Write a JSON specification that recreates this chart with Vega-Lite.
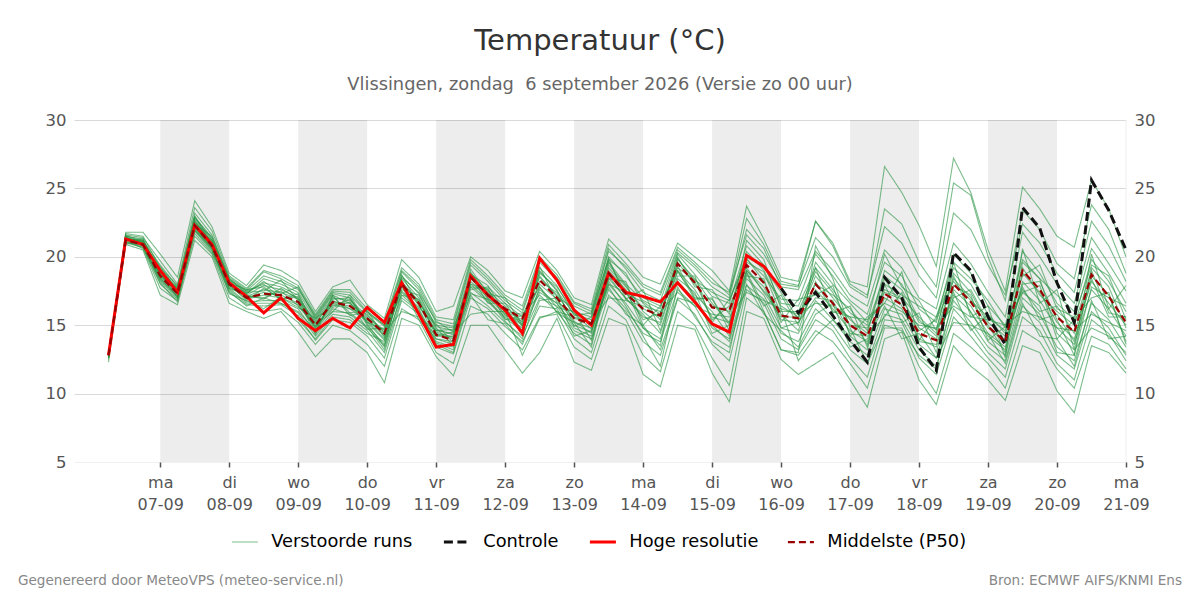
{"$schema":"https://vega.github.io/schema/vega-lite/v6.json","autosize":{"type":"none"},"width":1052,"height":342,"padding":{"left":74,"top":120,"right":74,"bottom":138},"background":"white","view":{"stroke":null},"title":{"text":"Temperatuur (°C)","subtitle":"Vlissingen, zondag\u00a0 6 september 2026 (Versie zo 00 uur)","anchor":"middle","font":"DejaVu Sans","fontSize":29,"fontWeight":"normal","color":"#333333","subtitleFont":"DejaVu Sans","subtitleFontSize":17.8,"subtitleColor":"#666666","subtitlePadding":20,"offset":18},"config":{"font":"DejaVu Sans","legend":{"orient":"none","legendX":162,"legendY":413,"direction":"horizontal","labelFontSize":17.8,"labelColor":"#000000","labelFont":"DejaVu Sans","symbolSize":676,"labelOffset":17.5,"columnPadding":24,"labelLimit":300}},"datasets":{"runs":[
{"h":-18,"m":1,"v":12.5},{"h":-12,"m":1,"v":21.8},{"h":-6,"m":1,"v":21.8},{"h":0,"m":1,"v":20.2},{"h":6,"m":1,"v":18.5},{"h":12,"m":1,"v":24.1},{"h":18,"m":1,"v":22.2},{"h":24,"m":1,"v":18.8},{"h":30,"m":1,"v":17.9},{"h":36,"m":1,"v":19.4},{"h":42,"m":1,"v":19},{"h":48,"m":1,"v":18.2},{"h":54,"m":1,"v":16},{"h":60,"m":1,"v":17.8},{"h":66,"m":1,"v":18.3},{"h":72,"m":1,"v":16.5},{"h":78,"m":1,"v":15.5},{"h":84,"m":1,"v":19.8},{"h":90,"m":1,"v":18.5},{"h":96,"m":1,"v":16},{"h":102,"m":1,"v":16.4},{"h":108,"m":1,"v":20},{"h":114,"m":1,"v":19},{"h":120,"m":1,"v":17.5},{"h":126,"m":1,"v":17},{"h":132,"m":1,"v":20.4},{"h":138,"m":1,"v":19},{"h":144,"m":1,"v":17},{"h":150,"m":1,"v":16.5},{"h":156,"m":1,"v":21.3},{"h":162,"m":1,"v":20},{"h":168,"m":1,"v":18.5},{"h":174,"m":1,"v":18},{"h":180,"m":1,"v":21},{"h":186,"m":1,"v":20},{"h":192,"m":1,"v":19},{"h":198,"m":1,"v":17.5},{"h":204,"m":1,"v":23.7},{"h":210,"m":1,"v":21.3},{"h":216,"m":1,"v":18.5},{"h":222,"m":1,"v":18.2},{"h":228,"m":1,"v":22.6},{"h":234,"m":1,"v":21},{"h":240,"m":1,"v":18.2},{"h":246,"m":1,"v":17.8},{"h":252,"m":1,"v":26.6},{"h":258,"m":1,"v":24.7},{"h":264,"m":1,"v":22.3},{"h":270,"m":1,"v":19.3},{"h":276,"m":1,"v":27.2},{"h":282,"m":1,"v":24.7},{"h":288,"m":1,"v":20.5},{"h":294,"m":1,"v":17.5},{"h":300,"m":1,"v":25.1},{"h":306,"m":1,"v":23.5},{"h":312,"m":1,"v":21.5},{"h":318,"m":1,"v":20.7},{"h":324,"m":1,"v":25.6},{"h":330,"m":1,"v":23.5},{"h":336,"m":1,"v":20},
{"h":-18,"m":2,"v":12.3},{"h":-12,"m":2,"v":20.9},{"h":-6,"m":2,"v":20.5},{"h":0,"m":2,"v":17.2},{"h":6,"m":2,"v":16.5},{"h":12,"m":2,"v":21.2},{"h":18,"m":2,"v":20},{"h":24,"m":2,"v":16.6},{"h":30,"m":2,"v":16},{"h":36,"m":2,"v":15.5},{"h":42,"m":2,"v":16},{"h":48,"m":2,"v":14.5},{"h":54,"m":2,"v":12.7},{"h":60,"m":2,"v":14},{"h":66,"m":2,"v":14},{"h":72,"m":2,"v":13},{"h":78,"m":2,"v":10.8},{"h":84,"m":2,"v":15.5},{"h":90,"m":2,"v":15},{"h":96,"m":2,"v":12.7},{"h":102,"m":2,"v":11.3},{"h":108,"m":2,"v":15},{"h":114,"m":2,"v":15},{"h":120,"m":2,"v":13.2},{"h":126,"m":2,"v":11.5},{"h":132,"m":2,"v":13},{"h":138,"m":2,"v":15.5},{"h":144,"m":2,"v":12.3},{"h":150,"m":2,"v":11.7},{"h":156,"m":2,"v":15.5},{"h":162,"m":2,"v":15},{"h":168,"m":2,"v":11.4},{"h":174,"m":2,"v":10.5},{"h":180,"m":2,"v":15},{"h":186,"m":2,"v":14.7},{"h":192,"m":2,"v":11.5},{"h":198,"m":2,"v":9.4},{"h":204,"m":2,"v":16},{"h":210,"m":2,"v":15.5},{"h":216,"m":2,"v":12.5},{"h":222,"m":2,"v":11.4},{"h":228,"m":2,"v":12.2},{"h":234,"m":2,"v":13},{"h":240,"m":2,"v":11},{"h":246,"m":2,"v":9},{"h":252,"m":2,"v":14},{"h":258,"m":2,"v":14.5},{"h":264,"m":2,"v":11},{"h":270,"m":2,"v":9.2},{"h":276,"m":2,"v":13.5},{"h":282,"m":2,"v":12},{"h":288,"m":2,"v":11},{"h":294,"m":2,"v":9.5},{"h":300,"m":2,"v":13.5},{"h":306,"m":2,"v":13},{"h":312,"m":2,"v":10.2},{"h":318,"m":2,"v":8.6},{"h":324,"m":2,"v":13.5},{"h":330,"m":2,"v":13},{"h":336,"m":2,"v":11.5},
{"h":-18,"m":3,"v":12.9},{"h":-12,"m":3,"v":21.5},{"h":-6,"m":3,"v":21.2},{"h":0,"m":3,"v":19.4},{"h":6,"m":3,"v":17.8},{"h":12,"m":3,"v":23.2},{"h":18,"m":3,"v":21.6},{"h":24,"m":3,"v":18.4},{"h":30,"m":3,"v":17.5},{"h":36,"m":3,"v":18.6},{"h":42,"m":3,"v":18.2},{"h":48,"m":3,"v":17.6},{"h":54,"m":3,"v":15.6},{"h":60,"m":3,"v":17.4},{"h":66,"m":3,"v":17.2},{"h":72,"m":3,"v":15.9},{"h":78,"m":3,"v":14.9},{"h":84,"m":3,"v":18.9},{"h":90,"m":3,"v":17.6},{"h":96,"m":3,"v":15.2},{"h":102,"m":3,"v":14.9},{"h":108,"m":3,"v":19.4},{"h":114,"m":3,"v":18.2},{"h":120,"m":3,"v":16.8},{"h":126,"m":3,"v":15.9},{"h":132,"m":3,"v":19.6},{"h":138,"m":3,"v":18.3},{"h":144,"m":3,"v":16.4},{"h":150,"m":3,"v":15.8},{"h":156,"m":3,"v":20.6},{"h":162,"m":3,"v":19.1},{"h":168,"m":3,"v":17.4},{"h":174,"m":3,"v":16.8},{"h":180,"m":3,"v":20.3},{"h":186,"m":3,"v":19.2},{"h":192,"m":3,"v":17.8},{"h":198,"m":3,"v":17},{"h":204,"m":3,"v":22},{"h":210,"m":3,"v":20.6},{"h":216,"m":3,"v":17.8},{"h":222,"m":3,"v":17.6},{"h":228,"m":3,"v":20.4},{"h":234,"m":3,"v":19},{"h":240,"m":3,"v":17.2},{"h":246,"m":3,"v":16.4},{"h":252,"m":3,"v":20.5},{"h":258,"m":3,"v":19.2},{"h":264,"m":3,"v":17},{"h":270,"m":3,"v":16.2},{"h":276,"m":3,"v":21},{"h":282,"m":3,"v":19.5},{"h":288,"m":3,"v":17.4},{"h":294,"m":3,"v":15.6},{"h":300,"m":3,"v":21.8},{"h":306,"m":3,"v":20},{"h":312,"m":3,"v":18},{"h":318,"m":3,"v":16.6},{"h":324,"m":3,"v":21.4},{"h":330,"m":3,"v":19.5},{"h":336,"m":3,"v":17.5},
{"h":-18,"m":4,"v":12.7},{"h":-12,"m":4,"v":21},{"h":-6,"m":4,"v":20.7},{"h":0,"m":4,"v":18},{"h":6,"m":4,"v":16.9},{"h":12,"m":4,"v":21.7},{"h":18,"m":4,"v":20.3},{"h":24,"m":4,"v":17.4},{"h":30,"m":4,"v":16.5},{"h":36,"m":4,"v":16.4},{"h":42,"m":4,"v":16.5},{"h":48,"m":4,"v":15.7},{"h":54,"m":4,"v":13.9},{"h":60,"m":4,"v":15.4},{"h":66,"m":4,"v":15.2},{"h":72,"m":4,"v":14.2},{"h":78,"m":4,"v":12.6},{"h":84,"m":4,"v":16.8},{"h":90,"m":4,"v":15.8},{"h":96,"m":4,"v":13.4},{"h":102,"m":4,"v":12.9},{"h":108,"m":4,"v":17},{"h":114,"m":4,"v":16.2},{"h":120,"m":4,"v":14.9},{"h":126,"m":4,"v":13.8},{"h":132,"m":4,"v":16.4},{"h":138,"m":4,"v":16.2},{"h":144,"m":4,"v":14},{"h":150,"m":4,"v":13},{"h":156,"m":4,"v":17.2},{"h":162,"m":4,"v":16},{"h":168,"m":4,"v":13.8},{"h":174,"m":4,"v":12.8},{"h":180,"m":4,"v":16.9},{"h":186,"m":4,"v":15.8},{"h":192,"m":4,"v":13.6},{"h":198,"m":4,"v":12.4},{"h":204,"m":4,"v":17.6},{"h":210,"m":4,"v":16.6},{"h":216,"m":4,"v":14},{"h":222,"m":4,"v":13.2},{"h":228,"m":4,"v":15.4},{"h":234,"m":4,"v":14.6},{"h":240,"m":4,"v":12.6},{"h":246,"m":4,"v":11.2},{"h":252,"m":4,"v":15.4},{"h":258,"m":4,"v":15.2},{"h":264,"m":4,"v":12.6},{"h":270,"m":4,"v":11.4},{"h":276,"m":4,"v":15.6},{"h":282,"m":4,"v":14.2},{"h":288,"m":4,"v":12.6},{"h":294,"m":4,"v":11.2},{"h":300,"m":4,"v":15.6},{"h":306,"m":4,"v":14.6},{"h":312,"m":4,"v":12.2},{"h":318,"m":4,"v":11},{"h":324,"m":4,"v":15.4},{"h":330,"m":4,"v":14.4},{"h":336,"m":4,"v":12.4},
{"h":-18,"m":5,"v":12.8},{"h":-12,"m":5,"v":21.4},{"h":-6,"m":5,"v":21},{"h":0,"m":5,"v":18.9},{"h":6,"m":5,"v":17.6},{"h":12,"m":5,"v":22.8},{"h":18,"m":5,"v":21.2},{"h":24,"m":5,"v":18.2},{"h":30,"m":5,"v":17.2},{"h":36,"m":5,"v":17.9},{"h":42,"m":5,"v":17.6},{"h":48,"m":5,"v":17},{"h":54,"m":5,"v":15.3},{"h":60,"m":5,"v":17},{"h":66,"m":5,"v":16.8},{"h":72,"m":5,"v":15.7},{"h":78,"m":5,"v":14.6},{"h":84,"m":5,"v":18.4},{"h":90,"m":5,"v":17},{"h":96,"m":5,"v":14.7},{"h":102,"m":5,"v":14.3},{"h":108,"m":5,"v":18.8},{"h":114,"m":5,"v":17.5},{"h":120,"m":5,"v":16.4},{"h":126,"m":5,"v":15.2},{"h":132,"m":5,"v":19},{"h":138,"m":5,"v":17.5},{"h":144,"m":5,"v":15.8},{"h":150,"m":5,"v":15.4},{"h":156,"m":5,"v":19.6},{"h":162,"m":5,"v":18},{"h":168,"m":5,"v":16.8},{"h":174,"m":5,"v":16.2},{"h":180,"m":5,"v":20.2},{"h":186,"m":5,"v":18.7},{"h":192,"m":5,"v":17.1},{"h":198,"m":5,"v":16.6},{"h":204,"m":5,"v":20.8},{"h":210,"m":5,"v":19.4},{"h":216,"m":5,"v":16.6},{"h":222,"m":5,"v":16.4},{"h":228,"m":5,"v":19.2},{"h":234,"m":5,"v":17.6},{"h":240,"m":5,"v":15.9},{"h":246,"m":5,"v":15},{"h":252,"m":5,"v":18.6},{"h":258,"m":5,"v":17.6},{"h":264,"m":5,"v":15.2},{"h":270,"m":5,"v":14.7},{"h":276,"m":5,"v":19.2},{"h":282,"m":5,"v":18},{"h":288,"m":5,"v":15.8},{"h":294,"m":5,"v":14.4},{"h":300,"m":5,"v":20.4},{"h":306,"m":5,"v":18.8},{"h":312,"m":5,"v":16.6},{"h":318,"m":5,"v":15.4},{"h":324,"m":5,"v":19.8},{"h":330,"m":5,"v":18.2},{"h":336,"m":5,"v":16},
{"h":-18,"m":6,"v":12.6},{"h":-12,"m":6,"v":21.1},{"h":-6,"m":6,"v":20.8},{"h":0,"m":6,"v":18.3},{"h":6,"m":6,"v":17.1},{"h":12,"m":6,"v":22},{"h":18,"m":6,"v":20.5},{"h":24,"m":6,"v":17.7},{"h":30,"m":6,"v":16.7},{"h":36,"m":6,"v":16.8},{"h":42,"m":6,"v":16.8},{"h":48,"m":6,"v":16.2},{"h":54,"m":6,"v":14.4},{"h":60,"m":6,"v":16},{"h":66,"m":6,"v":15.9},{"h":72,"m":6,"v":14.9},{"h":78,"m":6,"v":13.2},{"h":84,"m":6,"v":17.4},{"h":90,"m":6,"v":16.2},{"h":96,"m":6,"v":13.8},{"h":102,"m":6,"v":13.4},{"h":108,"m":6,"v":17.8},{"h":114,"m":6,"v":16.7},{"h":120,"m":6,"v":15.5},{"h":126,"m":6,"v":14.6},{"h":132,"m":6,"v":17.4},{"h":138,"m":6,"v":16.6},{"h":144,"m":6,"v":14.8},{"h":150,"m":6,"v":14.2},{"h":156,"m":6,"v":18},{"h":162,"m":6,"v":16.6},{"h":168,"m":6,"v":14.8},{"h":174,"m":6,"v":14},{"h":180,"m":6,"v":18.2},{"h":186,"m":6,"v":16.9},{"h":192,"m":6,"v":14.8},{"h":198,"m":6,"v":14},{"h":204,"m":6,"v":18.4},{"h":210,"m":6,"v":17.2},{"h":216,"m":6,"v":14.8},{"h":222,"m":6,"v":14.4},{"h":228,"m":6,"v":16.8},{"h":234,"m":6,"v":15.4},{"h":240,"m":6,"v":13.8},{"h":246,"m":6,"v":12.8},{"h":252,"m":6,"v":16.2},{"h":258,"m":6,"v":15.8},{"h":264,"m":6,"v":13.6},{"h":270,"m":6,"v":12.6},{"h":276,"m":6,"v":16.8},{"h":282,"m":6,"v":15.2},{"h":288,"m":6,"v":13.4},{"h":294,"m":6,"v":12.4},{"h":300,"m":6,"v":17},{"h":306,"m":6,"v":15.8},{"h":312,"m":6,"v":13.4},{"h":318,"m":6,"v":12.4},{"h":324,"m":6,"v":16.6},{"h":330,"m":6,"v":15.4},{"h":336,"m":6,"v":13.4},
{"h":-18,"m":7,"v":13},{"h":-12,"m":7,"v":21.6},{"h":-6,"m":7,"v":21.4},{"h":0,"m":7,"v":19.7},{"h":6,"m":7,"v":18},{"h":12,"m":7,"v":23.6},{"h":18,"m":7,"v":21.9},{"h":24,"m":7,"v":18.6},{"h":30,"m":7,"v":17.7},{"h":36,"m":7,"v":19},{"h":42,"m":7,"v":18.6},{"h":48,"m":7,"v":17.9},{"h":54,"m":7,"v":15.8},{"h":60,"m":7,"v":17.6},{"h":66,"m":7,"v":17.6},{"h":72,"m":7,"v":16.2},{"h":78,"m":7,"v":15.2},{"h":84,"m":7,"v":19.2},{"h":90,"m":7,"v":18},{"h":96,"m":7,"v":15.6},{"h":102,"m":7,"v":15.4},{"h":108,"m":7,"v":19.8},{"h":114,"m":7,"v":18.6},{"h":120,"m":7,"v":17.2},{"h":126,"m":7,"v":16.4},{"h":132,"m":7,"v":20},{"h":138,"m":7,"v":18.7},{"h":144,"m":7,"v":16.7},{"h":150,"m":7,"v":16.2},{"h":156,"m":7,"v":20.9},{"h":162,"m":7,"v":19.5},{"h":168,"m":7,"v":18},{"h":174,"m":7,"v":17.4},{"h":180,"m":7,"v":20.7},{"h":186,"m":7,"v":19.6},{"h":192,"m":7,"v":18.4},{"h":198,"m":7,"v":17.2},{"h":204,"m":7,"v":22.8},{"h":210,"m":7,"v":20.9},{"h":216,"m":7,"v":18.2},{"h":222,"m":7,"v":17.9},{"h":228,"m":7,"v":21.4},{"h":234,"m":7,"v":20},{"h":240,"m":7,"v":17.8},{"h":246,"m":7,"v":17},{"h":252,"m":7,"v":23.5},{"h":258,"m":7,"v":22.4},{"h":264,"m":7,"v":19.6},{"h":270,"m":7,"v":17.8},{"h":276,"m":7,"v":25.4},{"h":282,"m":7,"v":24.5},{"h":288,"m":7,"v":20},{"h":294,"m":7,"v":16.8},{"h":300,"m":7,"v":23.4},{"h":306,"m":7,"v":22},{"h":312,"m":7,"v":19.5},{"h":318,"m":7,"v":18.4},{"h":324,"m":7,"v":23.8},{"h":330,"m":7,"v":22},{"h":336,"m":7,"v":18.8},
{"h":-18,"m":8,"v":12.8},{"h":-12,"m":8,"v":21.3},{"h":-6,"m":8,"v":20.9},{"h":0,"m":8,"v":18.5},{"h":6,"m":8,"v":17.3},{"h":12,"m":8,"v":22.4},{"h":18,"m":8,"v":20.9},{"h":24,"m":8,"v":17.9},{"h":30,"m":8,"v":16.9},{"h":36,"m":8,"v":17.2},{"h":42,"m":8,"v":17},{"h":48,"m":8,"v":16.5},{"h":54,"m":8,"v":14.8},{"h":60,"m":8,"v":16.5},{"h":66,"m":8,"v":16.2},{"h":72,"m":8,"v":15.3},{"h":78,"m":8,"v":14},{"h":84,"m":8,"v":17.8},{"h":90,"m":8,"v":16.5},{"h":96,"m":8,"v":14},{"h":102,"m":8,"v":13.6},{"h":108,"m":8,"v":18.2},{"h":114,"m":8,"v":17},{"h":120,"m":8,"v":15.8},{"h":126,"m":8,"v":15},{"h":132,"m":8,"v":18},{"h":138,"m":8,"v":16.9},{"h":144,"m":8,"v":15.2},{"h":150,"m":8,"v":14.8},{"h":156,"m":8,"v":18.4},{"h":162,"m":8,"v":17},{"h":168,"m":8,"v":15.6},{"h":174,"m":8,"v":15.2},{"h":180,"m":8,"v":19},{"h":186,"m":8,"v":17.6},{"h":192,"m":8,"v":15.6},{"h":198,"m":8,"v":15.2},{"h":204,"m":8,"v":19},{"h":210,"m":8,"v":17.8},{"h":216,"m":8,"v":15.4},{"h":222,"m":8,"v":15.2},{"h":228,"m":8,"v":17.6},{"h":234,"m":8,"v":16.2},{"h":240,"m":8,"v":14.6},{"h":246,"m":8,"v":13.8},{"h":252,"m":8,"v":17},{"h":258,"m":8,"v":16.2},{"h":264,"m":8,"v":14},{"h":270,"m":8,"v":13.4},{"h":276,"m":8,"v":17.6},{"h":282,"m":8,"v":16.4},{"h":288,"m":8,"v":14.4},{"h":294,"m":8,"v":13.4},{"h":300,"m":8,"v":18.2},{"h":306,"m":8,"v":16.8},{"h":312,"m":8,"v":14.8},{"h":318,"m":8,"v":13.6},{"h":324,"m":8,"v":17.6},{"h":330,"m":8,"v":16.2},{"h":336,"m":8,"v":14.2},
{"h":-18,"m":9,"v":12.9},{"h":-12,"m":9,"v":21.2},{"h":-6,"m":9,"v":21.1},{"h":0,"m":9,"v":19.1},{"h":6,"m":9,"v":17.7},{"h":12,"m":9,"v":22.6},{"h":18,"m":9,"v":21},{"h":24,"m":9,"v":18.3},{"h":30,"m":9,"v":17.4},{"h":36,"m":9,"v":18.1},{"h":42,"m":9,"v":17.8},{"h":48,"m":9,"v":17.2},{"h":54,"m":9,"v":15.1},{"h":60,"m":9,"v":16.9},{"h":66,"m":9,"v":17},{"h":72,"m":9,"v":15},{"h":78,"m":9,"v":13.6},{"h":84,"m":9,"v":18},{"h":90,"m":9,"v":16.8},{"h":96,"m":9,"v":14.5},{"h":102,"m":9,"v":14.1},{"h":108,"m":9,"v":18.5},{"h":114,"m":9,"v":17.4},{"h":120,"m":9,"v":16},{"h":126,"m":9,"v":12.8},{"h":132,"m":9,"v":15.5},{"h":138,"m":9,"v":16},{"h":144,"m":9,"v":14.4},{"h":150,"m":9,"v":13.6},{"h":156,"m":9,"v":19},{"h":162,"m":9,"v":17.6},{"h":168,"m":9,"v":14.8},{"h":174,"m":9,"v":13.5},{"h":180,"m":9,"v":19.8},{"h":186,"m":9,"v":18.4},{"h":192,"m":9,"v":16.6},{"h":198,"m":9,"v":15.2},{"h":204,"m":9,"v":21.2},{"h":210,"m":9,"v":19.8},{"h":216,"m":9,"v":16.2},{"h":222,"m":9,"v":12.4},{"h":228,"m":9,"v":14.2},{"h":234,"m":9,"v":15.4},{"h":240,"m":9,"v":14.2},{"h":246,"m":9,"v":13.2},{"h":252,"m":9,"v":18},{"h":258,"m":9,"v":17.2},{"h":264,"m":9,"v":16.4},{"h":270,"m":9,"v":15.6},{"h":276,"m":9,"v":18.8},{"h":282,"m":9,"v":17.4},{"h":288,"m":9,"v":15},{"h":294,"m":9,"v":13},{"h":300,"m":9,"v":19.6},{"h":306,"m":9,"v":18.4},{"h":312,"m":9,"v":14.4},{"h":318,"m":9,"v":13.2},{"h":324,"m":9,"v":14.8},{"h":330,"m":9,"v":14.2},{"h":336,"m":9,"v":13},
{"h":-18,"m":10,"v":12.7},{"h":-12,"m":10,"v":21.2},{"h":-6,"m":10,"v":20.6},{"h":0,"m":10,"v":17.7},{"h":6,"m":10,"v":16.8},{"h":12,"m":10,"v":21.5},{"h":18,"m":10,"v":20.2},{"h":24,"m":10,"v":17},{"h":30,"m":10,"v":16.2},{"h":36,"m":10,"v":16},{"h":42,"m":10,"v":16.2},{"h":48,"m":10,"v":15.2},{"h":54,"m":10,"v":13.6},{"h":60,"m":10,"v":15},{"h":66,"m":10,"v":14.6},{"h":72,"m":10,"v":13.6},{"h":78,"m":10,"v":12},{"h":84,"m":10,"v":16.2},{"h":90,"m":10,"v":15.4},{"h":96,"m":10,"v":13},{"h":102,"m":10,"v":12.2},{"h":108,"m":10,"v":16.4},{"h":114,"m":10,"v":15.8},{"h":120,"m":10,"v":14.4},{"h":126,"m":10,"v":13.2},{"h":132,"m":10,"v":15.6},{"h":138,"m":10,"v":15.8},{"h":144,"m":10,"v":13.4},{"h":150,"m":10,"v":12.5},{"h":156,"m":10,"v":16.4},{"h":162,"m":10,"v":15.4},{"h":168,"m":10,"v":12.8},{"h":174,"m":10,"v":11.6},{"h":180,"m":10,"v":16},{"h":186,"m":10,"v":15},{"h":192,"m":10,"v":12.6},{"h":198,"m":10,"v":10.6},{"h":204,"m":10,"v":17},{"h":210,"m":10,"v":16},{"h":216,"m":10,"v":13.2},{"h":222,"m":10,"v":12.8},{"h":228,"m":10,"v":14.6},{"h":234,"m":10,"v":13.8},{"h":240,"m":10,"v":12.2},{"h":246,"m":10,"v":10.4},{"h":252,"m":10,"v":14.8},{"h":258,"m":10,"v":14.8},{"h":264,"m":10,"v":12},{"h":270,"m":10,"v":10},{"h":276,"m":10,"v":14.4},{"h":282,"m":10,"v":13.4},{"h":288,"m":10,"v":12.2},{"h":294,"m":10,"v":10.4},{"h":300,"m":10,"v":14.6},{"h":306,"m":10,"v":13.8},{"h":312,"m":10,"v":11.8},{"h":318,"m":10,"v":10.4},{"h":324,"m":10,"v":14.2},{"h":330,"m":10,"v":13.6},{"h":336,"m":10,"v":11.8},
{"h":-18,"m":11,"v":12.8},{"h":-12,"m":11,"v":21.5},{"h":-6,"m":11,"v":21.3},{"h":0,"m":11,"v":18.8},{"h":6,"m":11,"v":17.4},{"h":12,"m":11,"v":22.2},{"h":18,"m":11,"v":20.7},{"h":24,"m":11,"v":18.1},{"h":30,"m":11,"v":17.3},{"h":36,"m":11,"v":18.4},{"h":42,"m":11,"v":18},{"h":48,"m":11,"v":17.4},{"h":54,"m":11,"v":15.4},{"h":60,"m":11,"v":17.2},{"h":66,"m":11,"v":16.6},{"h":72,"m":11,"v":15.4},{"h":78,"m":11,"v":14.2},{"h":84,"m":11,"v":18.6},{"h":90,"m":11,"v":17.3},{"h":96,"m":11,"v":14.9},{"h":102,"m":11,"v":14.6},{"h":108,"m":11,"v":17.6},{"h":114,"m":11,"v":17.8},{"h":120,"m":11,"v":16.6},{"h":126,"m":11,"v":15.6},{"h":132,"m":11,"v":18.8},{"h":138,"m":11,"v":17.8},{"h":144,"m":11,"v":16},{"h":150,"m":11,"v":15.6},{"h":156,"m":11,"v":20},{"h":162,"m":11,"v":18.6},{"h":168,"m":11,"v":17},{"h":174,"m":11,"v":16.4},{"h":180,"m":11,"v":19.2},{"h":186,"m":11,"v":18.3},{"h":192,"m":11,"v":17.4},{"h":198,"m":11,"v":16.8},{"h":204,"m":11,"v":19.8},{"h":210,"m":11,"v":18.6},{"h":216,"m":11,"v":16.9},{"h":222,"m":11,"v":16.8},{"h":228,"m":11,"v":20.2},{"h":234,"m":11,"v":18.6},{"h":240,"m":11,"v":16.8},{"h":246,"m":11,"v":15.8},{"h":252,"m":11,"v":19.6},{"h":258,"m":11,"v":18.6},{"h":264,"m":11,"v":16.2},{"h":270,"m":11,"v":15.2},{"h":276,"m":11,"v":20.2},{"h":282,"m":11,"v":18.8},{"h":288,"m":11,"v":16.4},{"h":294,"m":11,"v":15},{"h":300,"m":11,"v":19.8},{"h":306,"m":11,"v":18.4},{"h":312,"m":11,"v":17.2},{"h":318,"m":11,"v":16},{"h":324,"m":11,"v":20.6},{"h":330,"m":11,"v":18.8},{"h":336,"m":11,"v":16.6},
{"h":-18,"m":12,"v":12.6},{"h":-12,"m":12,"v":21},{"h":-6,"m":12,"v":20.9},{"h":0,"m":12,"v":18.2},{"h":6,"m":12,"v":17},{"h":12,"m":12,"v":22.1},{"h":18,"m":12,"v":20.6},{"h":24,"m":12,"v":17.6},{"h":30,"m":12,"v":16.6},{"h":36,"m":12,"v":16.6},{"h":42,"m":12,"v":16.6},{"h":48,"m":12,"v":15.9},{"h":54,"m":12,"v":14.2},{"h":60,"m":12,"v":15.8},{"h":66,"m":12,"v":15.6},{"h":72,"m":12,"v":14.6},{"h":78,"m":12,"v":13},{"h":84,"m":12,"v":17},{"h":90,"m":12,"v":16},{"h":96,"m":12,"v":13.6},{"h":102,"m":12,"v":13},{"h":108,"m":12,"v":17.4},{"h":114,"m":12,"v":16.4},{"h":120,"m":12,"v":15.2},{"h":126,"m":12,"v":14.2},{"h":132,"m":12,"v":17},{"h":138,"m":12,"v":16.4},{"h":144,"m":12,"v":14.6},{"h":150,"m":12,"v":14},{"h":156,"m":12,"v":17.6},{"h":162,"m":12,"v":16.2},{"h":168,"m":12,"v":14.4},{"h":174,"m":12,"v":13.8},{"h":180,"m":12,"v":17.6},{"h":186,"m":12,"v":16.4},{"h":192,"m":12,"v":14.2},{"h":198,"m":12,"v":13.4},{"h":204,"m":12,"v":17.9},{"h":210,"m":12,"v":16.9},{"h":216,"m":12,"v":14.4},{"h":222,"m":12,"v":13.8},{"h":228,"m":12,"v":16.2},{"h":234,"m":12,"v":15},{"h":240,"m":12,"v":13.2},{"h":246,"m":12,"v":12.2},{"h":252,"m":12,"v":15.8},{"h":258,"m":12,"v":15.4},{"h":264,"m":12,"v":13.2},{"h":270,"m":12,"v":12},{"h":276,"m":12,"v":16.2},{"h":282,"m":12,"v":14.8},{"h":288,"m":12,"v":13},{"h":294,"m":12,"v":11.8},{"h":300,"m":12,"v":16.4},{"h":306,"m":12,"v":15.2},{"h":312,"m":12,"v":12.8},{"h":318,"m":12,"v":11.8},{"h":324,"m":12,"v":16},{"h":330,"m":12,"v":14.8},{"h":336,"m":12,"v":12.8},
{"h":-18,"m":13,"v":12.9},{"h":-12,"m":13,"v":21.7},{"h":-6,"m":13,"v":21.5},{"h":0,"m":13,"v":19.2},{"h":6,"m":13,"v":17.9},{"h":12,"m":13,"v":22.9},{"h":18,"m":13,"v":21.4},{"h":24,"m":13,"v":18.5},{"h":30,"m":13,"v":17.6},{"h":36,"m":13,"v":18.9},{"h":42,"m":13,"v":18.4},{"h":48,"m":13,"v":17.7},{"h":54,"m":13,"v":15.7},{"h":60,"m":13,"v":17.5},{"h":66,"m":13,"v":17.4},{"h":72,"m":13,"v":16},{"h":78,"m":13,"v":15},{"h":84,"m":13,"v":19},{"h":90,"m":13,"v":17.8},{"h":96,"m":13,"v":15.4},{"h":102,"m":13,"v":15.1},{"h":108,"m":13,"v":19.6},{"h":114,"m":13,"v":18.4},{"h":120,"m":13,"v":17},{"h":126,"m":13,"v":16.1},{"h":132,"m":13,"v":19.8},{"h":138,"m":13,"v":18.5},{"h":144,"m":13,"v":16.6},{"h":150,"m":13,"v":16},{"h":156,"m":13,"v":20.4},{"h":162,"m":13,"v":19.3},{"h":168,"m":13,"v":17.8},{"h":174,"m":13,"v":17.2},{"h":180,"m":13,"v":20.5},{"h":186,"m":13,"v":19.4},{"h":192,"m":13,"v":18.1},{"h":198,"m":13,"v":17.4},{"h":204,"m":13,"v":21.6},{"h":210,"m":13,"v":20.2},{"h":216,"m":13,"v":18},{"h":222,"m":13,"v":17.8},{"h":228,"m":13,"v":22.6},{"h":234,"m":13,"v":20.8},{"h":240,"m":13,"v":18},{"h":246,"m":13,"v":17.2},{"h":252,"m":13,"v":22.2},{"h":258,"m":13,"v":21},{"h":264,"m":13,"v":18.6},{"h":270,"m":13,"v":17},{"h":276,"m":13,"v":23.2},{"h":282,"m":13,"v":22},{"h":288,"m":13,"v":19.4},{"h":294,"m":13,"v":17.2},{"h":300,"m":13,"v":22.4},{"h":306,"m":13,"v":21},{"h":312,"m":13,"v":18.8},{"h":318,"m":13,"v":17.4},{"h":324,"m":13,"v":22.6},{"h":330,"m":13,"v":20.8},{"h":336,"m":13,"v":18.2},
{"h":-18,"m":14,"v":12.7},{"h":-12,"m":14,"v":21.3},{"h":-6,"m":14,"v":21},{"h":0,"m":14,"v":18.7},{"h":6,"m":14,"v":17.5},{"h":12,"m":14,"v":21.9},{"h":18,"m":14,"v":20.4},{"h":24,"m":14,"v":17.8},{"h":30,"m":14,"v":17.1},{"h":36,"m":14,"v":17.6},{"h":42,"m":14,"v":17.4},{"h":48,"m":14,"v":16.9},{"h":54,"m":14,"v":15.2},{"h":60,"m":14,"v":16.7},{"h":66,"m":14,"v":16.6},{"h":72,"m":14,"v":15.6},{"h":78,"m":14,"v":14.5},{"h":84,"m":14,"v":16},{"h":90,"m":14,"v":15.6},{"h":96,"m":14,"v":14.6},{"h":102,"m":14,"v":14.4},{"h":108,"m":14,"v":15.8},{"h":114,"m":14,"v":16},{"h":120,"m":14,"v":16},{"h":126,"m":14,"v":15.8},{"h":132,"m":14,"v":17.2},{"h":138,"m":14,"v":16},{"h":144,"m":14,"v":15.6},{"h":150,"m":14,"v":15.2},{"h":156,"m":14,"v":17},{"h":162,"m":14,"v":16.8},{"h":168,"m":14,"v":16.4},{"h":174,"m":14,"v":16},{"h":180,"m":14,"v":17.4},{"h":186,"m":14,"v":16.4},{"h":192,"m":14,"v":15.8},{"h":198,"m":14,"v":15.6},{"h":204,"m":14,"v":17.4},{"h":210,"m":14,"v":16.8},{"h":216,"m":14,"v":16.2},{"h":222,"m":14,"v":15.8},{"h":228,"m":14,"v":16.6},{"h":234,"m":14,"v":16.4},{"h":240,"m":14,"v":15.6},{"h":246,"m":14,"v":15.4},{"h":252,"m":14,"v":16.6},{"h":258,"m":14,"v":16},{"h":264,"m":14,"v":15},{"h":270,"m":14,"v":14.8},{"h":276,"m":14,"v":16.4},{"h":282,"m":14,"v":15.6},{"h":288,"m":14,"v":15.4},{"h":294,"m":14,"v":15},{"h":300,"m":14,"v":16},{"h":306,"m":14,"v":15.6},{"h":312,"m":14,"v":14.8},{"h":318,"m":14,"v":14.6},{"h":324,"m":14,"v":15.8},{"h":330,"m":14,"v":15.2},{"h":336,"m":14,"v":14.6},
{"h":-18,"m":15,"v":12.8},{"h":-12,"m":15,"v":21.4},{"h":-6,"m":15,"v":21.1},{"h":0,"m":15,"v":19},{"h":6,"m":15,"v":17.6},{"h":12,"m":15,"v":22.5},{"h":18,"m":15,"v":21.1},{"h":24,"m":15,"v":18},{"h":30,"m":15,"v":17},{"h":36,"m":15,"v":17.4},{"h":42,"m":15,"v":17.2},{"h":48,"m":15,"v":16.6},{"h":54,"m":15,"v":14.9},{"h":60,"m":15,"v":16.6},{"h":66,"m":15,"v":16.4},{"h":72,"m":15,"v":15.5},{"h":78,"m":15,"v":14.3},{"h":84,"m":15,"v":18.2},{"h":90,"m":15,"v":16.7},{"h":96,"m":15,"v":14.4},{"h":102,"m":15,"v":14},{"h":108,"m":15,"v":18.4},{"h":114,"m":15,"v":17.2},{"h":120,"m":15,"v":16},{"h":126,"m":15,"v":15.4},{"h":132,"m":15,"v":18.5},{"h":138,"m":15,"v":17.2},{"h":144,"m":15,"v":15.5},{"h":150,"m":15,"v":15.2},{"h":156,"m":15,"v":19.2},{"h":162,"m":15,"v":17.8},{"h":168,"m":15,"v":16.2},{"h":174,"m":15,"v":15.6},{"h":180,"m":15,"v":19.6},{"h":186,"m":15,"v":18},{"h":192,"m":15,"v":16.4},{"h":198,"m":15,"v":16},{"h":204,"m":15,"v":20.4},{"h":210,"m":15,"v":19},{"h":216,"m":15,"v":16.4},{"h":222,"m":15,"v":15.6},{"h":228,"m":15,"v":18.6},{"h":234,"m":15,"v":17},{"h":240,"m":15,"v":15.4},{"h":246,"m":15,"v":14.4},{"h":252,"m":15,"v":19},{"h":258,"m":15,"v":18},{"h":264,"m":15,"v":15.4},{"h":270,"m":15,"v":14.2},{"h":276,"m":15,"v":18.4},{"h":282,"m":15,"v":17},{"h":288,"m":15,"v":14.8},{"h":294,"m":15,"v":13.8},{"h":300,"m":15,"v":18.8},{"h":306,"m":15,"v":17.4},{"h":312,"m":15,"v":15.2},{"h":318,"m":15,"v":14},{"h":324,"m":15,"v":18.2},{"h":330,"m":15,"v":16.6},{"h":336,"m":15,"v":15},
{"h":-18,"m":16,"v":12.9},{"h":-12,"m":16,"v":21.4},{"h":-6,"m":16,"v":20.8},{"h":0,"m":16,"v":18.4},{"h":6,"m":16,"v":17.2},{"h":12,"m":16,"v":22.3},{"h":18,"m":16,"v":20.6},{"h":24,"m":16,"v":17.5},{"h":30,"m":16,"v":16.4},{"h":36,"m":16,"v":17},{"h":42,"m":16,"v":16.6},{"h":48,"m":16,"v":16},{"h":54,"m":16,"v":14.6},{"h":60,"m":16,"v":16.2},{"h":66,"m":16,"v":15.8},{"h":72,"m":16,"v":14.8},{"h":78,"m":16,"v":13.5},{"h":84,"m":16,"v":17.2},{"h":90,"m":16,"v":16.1},{"h":96,"m":16,"v":13.7},{"h":102,"m":16,"v":13.2},{"h":108,"m":16,"v":18},{"h":114,"m":16,"v":16.8},{"h":120,"m":16,"v":15.6},{"h":126,"m":16,"v":14.8},{"h":132,"m":16,"v":17.6},{"h":138,"m":16,"v":16.6},{"h":144,"m":16,"v":15},{"h":150,"m":16,"v":14.5},{"h":156,"m":16,"v":18.2},{"h":162,"m":16,"v":16.4},{"h":168,"m":16,"v":14.2},{"h":174,"m":16,"v":12},{"h":180,"m":16,"v":17.8},{"h":186,"m":16,"v":15.6},{"h":192,"m":16,"v":13.8},{"h":198,"m":16,"v":13},{"h":204,"m":16,"v":18.8},{"h":210,"m":16,"v":16},{"h":216,"m":16,"v":13.2},{"h":222,"m":16,"v":13},{"h":228,"m":16,"v":20.8},{"h":234,"m":16,"v":18.4},{"h":240,"m":16,"v":14.8},{"h":246,"m":16,"v":12.2},{"h":252,"m":16,"v":15},{"h":258,"m":16,"v":14.6},{"h":264,"m":16,"v":12.8},{"h":270,"m":16,"v":11.8},{"h":276,"m":16,"v":17.2},{"h":282,"m":16,"v":16},{"h":288,"m":16,"v":13.8},{"h":294,"m":16,"v":12.8},{"h":300,"m":16,"v":17.4},{"h":306,"m":16,"v":16.4},{"h":312,"m":16,"v":13},{"h":318,"m":16,"v":12.8},{"h":324,"m":16,"v":19.2},{"h":330,"m":16,"v":17.8},{"h":336,"m":16,"v":14.8},
{"h":-18,"m":17,"v":12.8},{"h":-12,"m":17,"v":21.3},{"h":-6,"m":17,"v":21},{"h":0,"m":17,"v":18.6},{"h":6,"m":17,"v":17.4},{"h":12,"m":17,"v":22.7},{"h":18,"m":17,"v":21},{"h":24,"m":17,"v":18.3},{"h":30,"m":17,"v":17.5},{"h":36,"m":17,"v":18},{"h":42,"m":17,"v":17},{"h":48,"m":17,"v":16.3},{"h":54,"m":17,"v":15.5},{"h":60,"m":17,"v":16.4},{"h":66,"m":17,"v":16.9},{"h":72,"m":17,"v":15.2},{"h":78,"m":17,"v":13.9},{"h":84,"m":17,"v":17.6},{"h":90,"m":17,"v":17.2},{"h":96,"m":17,"v":14.8},{"h":102,"m":17,"v":13.5},{"h":108,"m":17,"v":18.9},{"h":114,"m":17,"v":16.9},{"h":120,"m":17,"v":16.3},{"h":126,"m":17,"v":14.6},{"h":132,"m":17,"v":18.9},{"h":138,"m":17,"v":17.6},{"h":144,"m":17,"v":14.9},{"h":150,"m":17,"v":15.6},{"h":156,"m":17,"v":19.9},{"h":162,"m":17,"v":16.9},{"h":168,"m":17,"v":17.6},{"h":174,"m":17,"v":14.6},{"h":180,"m":17,"v":18.6},{"h":186,"m":17,"v":18.6},{"h":192,"m":17,"v":15.2},{"h":198,"m":17,"v":16.9},{"h":204,"m":17,"v":19.9},{"h":210,"m":17,"v":18.2},{"h":216,"m":17,"v":15.2},{"h":222,"m":17,"v":16.9},{"h":228,"m":17,"v":17.2},{"h":234,"m":17,"v":17.9},{"h":240,"m":17,"v":14.2},{"h":246,"m":17,"v":15.6},{"h":252,"m":17,"v":16.6},{"h":258,"m":17,"v":18.9},{"h":264,"m":17,"v":13.9},{"h":270,"m":17,"v":15.6},{"h":276,"m":17,"v":19.6},{"h":282,"m":17,"v":15.6},{"h":288,"m":17,"v":16.4},{"h":294,"m":17,"v":12.6},{"h":300,"m":17,"v":20.6},{"h":306,"m":17,"v":16.6},{"h":312,"m":17,"v":17.6},{"h":318,"m":17,"v":13.2},{"h":324,"m":17,"v":20.2},{"h":330,"m":17,"v":16.2},{"h":336,"m":17,"v":17.9},
{"h":-18,"m":18,"v":12.7},{"h":-12,"m":18,"v":21.5},{"h":-6,"m":18,"v":20.8},{"h":0,"m":18,"v":18.4},{"h":6,"m":18,"v":17.1},{"h":12,"m":18,"v":22.2},{"h":18,"m":18,"v":21.2},{"h":24,"m":18,"v":17.7},{"h":30,"m":18,"v":17.2},{"h":36,"m":18,"v":16.9},{"h":42,"m":18,"v":17.7},{"h":48,"m":18,"v":16.9},{"h":54,"m":18,"v":14.3},{"h":60,"m":18,"v":17.2},{"h":66,"m":18,"v":15.7},{"h":72,"m":18,"v":16},{"h":78,"m":18,"v":15},{"h":84,"m":18,"v":17.5},{"h":90,"m":18,"v":16.3},{"h":96,"m":18,"v":15},{"h":102,"m":18,"v":14.8},{"h":108,"m":18,"v":17.8},{"h":114,"m":18,"v":17.7},{"h":120,"m":18,"v":15.4},{"h":126,"m":18,"v":15.7},{"h":132,"m":18,"v":17.8},{"h":138,"m":18,"v":16.3},{"h":144,"m":18,"v":16},{"h":150,"m":18,"v":13.9},{"h":156,"m":18,"v":18.4},{"h":162,"m":18,"v":18.2},{"h":168,"m":18,"v":15},{"h":174,"m":18,"v":16.4},{"h":180,"m":18,"v":19},{"h":186,"m":18,"v":16.9},{"h":192,"m":18,"v":17},{"h":198,"m":18,"v":14.6},{"h":204,"m":18,"v":18.9},{"h":210,"m":18,"v":16.4},{"h":216,"m":18,"v":17.2},{"h":222,"m":18,"v":15},{"h":228,"m":18,"v":19.2},{"h":234,"m":18,"v":15.9},{"h":240,"m":18,"v":16.4},{"h":246,"m":18,"v":13.4},{"h":252,"m":18,"v":18},{"h":258,"m":18,"v":15.2},{"h":264,"m":18,"v":15.9},{"h":270,"m":18,"v":13},{"h":276,"m":18,"v":17.9},{"h":282,"m":18,"v":17.2},{"h":288,"m":18,"v":13.9},{"h":294,"m":18,"v":14.9},{"h":300,"m":18,"v":17.4},{"h":306,"m":18,"v":17.9},{"h":312,"m":18,"v":14},{"h":318,"m":18,"v":15.4},{"h":324,"m":18,"v":17},{"h":330,"m":18,"v":17.4},{"h":336,"m":18,"v":13.6},
{"h":-18,"m":19,"v":12.8},{"h":-12,"m":19,"v":21.2},{"h":-6,"m":19,"v":21.2},{"h":0,"m":19,"v":18.9},{"h":6,"m":19,"v":17.3},{"h":12,"m":19,"v":23},{"h":18,"m":19,"v":20.9},{"h":24,"m":19,"v":18},{"h":30,"m":19,"v":16.8},{"h":36,"m":19,"v":17.7},{"h":42,"m":19,"v":16.9},{"h":48,"m":19,"v":17.3},{"h":54,"m":19,"v":14.7},{"h":60,"m":19,"v":16.8},{"h":66,"m":19,"v":16.2},{"h":72,"m":19,"v":15.8},{"h":78,"m":19,"v":14.4},{"h":84,"m":19,"v":18.7},{"h":90,"m":19,"v":16.4},{"h":96,"m":19,"v":14.6},{"h":102,"m":19,"v":14.7},{"h":108,"m":19,"v":18.6},{"h":114,"m":19,"v":16.6},{"h":120,"m":19,"v":16.6},{"h":126,"m":19,"v":14.9},{"h":132,"m":19,"v":18.2},{"h":138,"m":19,"v":17.4},{"h":144,"m":19,"v":15.3},{"h":150,"m":19,"v":14.4},{"h":156,"m":19,"v":19.4},{"h":162,"m":19,"v":17.9},{"h":168,"m":19,"v":16},{"h":174,"m":19,"v":15},{"h":180,"m":19,"v":18.9},{"h":186,"m":19,"v":17.2},{"h":192,"m":19,"v":16},{"h":198,"m":19,"v":14.2},{"h":204,"m":19,"v":19.6},{"h":210,"m":19,"v":18.9},{"h":216,"m":19,"v":15.8},{"h":222,"m":19,"v":14.6},{"h":228,"m":19,"v":18.2},{"h":234,"m":19,"v":16},{"h":240,"m":19,"v":15.6},{"h":246,"m":19,"v":13.6},{"h":252,"m":19,"v":17.6},{"h":258,"m":19,"v":17},{"h":264,"m":19,"v":15.6},{"h":270,"m":19,"v":14.4},{"h":276,"m":19,"v":18.6},{"h":282,"m":19,"v":15.9},{"h":288,"m":19,"v":14.2},{"h":294,"m":19,"v":13.2},{"h":300,"m":19,"v":18},{"h":306,"m":19,"v":18.2},{"h":312,"m":19,"v":15.4},{"h":318,"m":19,"v":12.8},{"h":324,"m":19,"v":17.8},{"h":330,"m":19,"v":17},{"h":336,"m":19,"v":16.4},
{"h":-18,"m":20,"v":12.9},{"h":-12,"m":20,"v":21.4},{"h":-6,"m":20,"v":21.1},{"h":0,"m":20,"v":18.7},{"h":6,"m":20,"v":17.7},{"h":12,"m":20,"v":22.6},{"h":18,"m":20,"v":20.9},{"h":24,"m":20,"v":18.2},{"h":30,"m":20,"v":17.1},{"h":36,"m":20,"v":17},{"h":42,"m":20,"v":17.5},{"h":48,"m":20,"v":16.4},{"h":54,"m":20,"v":14.9},{"h":60,"m":20,"v":16.3},{"h":66,"m":20,"v":16.7},{"h":72,"m":20,"v":14.7},{"h":78,"m":20,"v":14.8},{"h":84,"m":20,"v":17.2},{"h":90,"m":20,"v":16.9},{"h":96,"m":20,"v":14.2},{"h":102,"m":20,"v":14.2},{"h":108,"m":20,"v":18},{"h":114,"m":20,"v":17.6},{"h":120,"m":20,"v":15.7},{"h":126,"m":20,"v":15.3},{"h":132,"m":20,"v":19.3},{"h":138,"m":20,"v":16.7},{"h":144,"m":20,"v":15.9},{"h":150,"m":20,"v":14.7},{"h":156,"m":20,"v":18},{"h":162,"m":20,"v":17.4},{"h":168,"m":20,"v":15.4},{"h":174,"m":20,"v":15.9},{"h":180,"m":20,"v":19.3},{"h":186,"m":20,"v":17},{"h":192,"m":20,"v":16.9},{"h":198,"m":20,"v":15},{"h":204,"m":20,"v":19},{"h":210,"m":20,"v":17.5},{"h":216,"m":20,"v":16},{"h":222,"m":20,"v":16},{"h":228,"m":20,"v":18.9},{"h":234,"m":20,"v":17.4},{"h":240,"m":20,"v":15},{"h":246,"m":20,"v":14.8},{"h":252,"m":20,"v":17.4},{"h":258,"m":20,"v":16.9},{"h":264,"m":20,"v":14.8},{"h":270,"m":20,"v":14},{"h":276,"m":20,"v":17},{"h":282,"m":20,"v":17.6},{"h":288,"m":20,"v":15.2},{"h":294,"m":20,"v":14.2},{"h":300,"m":20,"v":19.2},{"h":306,"m":20,"v":17.2},{"h":312,"m":20,"v":16},{"h":318,"m":20,"v":15},{"h":324,"m":20,"v":19},{"h":330,"m":20,"v":15.9},{"h":336,"m":20,"v":15.6},
{"h":-18,"m":21,"v":12.6},{"h":-12,"m":21,"v":21.1},{"h":-6,"m":21,"v":20.7},{"h":0,"m":21,"v":18.1},{"h":6,"m":21,"v":16.7},{"h":12,"m":21,"v":21.9},{"h":18,"m":21,"v":20.6},{"h":24,"m":21,"v":17.3},{"h":30,"m":21,"v":16.8},{"h":36,"m":21,"v":16.2},{"h":42,"m":21,"v":17.1},{"h":48,"m":21,"v":15.4},{"h":54,"m":21,"v":14},{"h":60,"m":21,"v":15.6},{"h":66,"m":21,"v":15.4},{"h":72,"m":21,"v":14.4},{"h":78,"m":21,"v":13.8},{"h":84,"m":21,"v":17.9},{"h":90,"m":21,"v":15.4},{"h":96,"m":21,"v":14},{"h":102,"m":21,"v":13.8},{"h":108,"m":21,"v":17.2},{"h":114,"m":21,"v":15.4},{"h":120,"m":21,"v":15.1},{"h":126,"m":21,"v":13.6},{"h":132,"m":21,"v":16.8},{"h":138,"m":21,"v":17},{"h":144,"m":21,"v":14.2},{"h":150,"m":21,"v":14.6},{"h":156,"m":21,"v":17.8},{"h":162,"m":21,"v":15.8},{"h":168,"m":21,"v":15},{"h":174,"m":21,"v":13.2},{"h":180,"m":21,"v":17},{"h":186,"m":21,"v":16.6},{"h":192,"m":21,"v":15},{"h":198,"m":21,"v":13.8},{"h":204,"m":21,"v":18},{"h":210,"m":21,"v":15.8},{"h":216,"m":21,"v":14.6},{"h":222,"m":21,"v":13.4},{"h":228,"m":21,"v":15.8},{"h":234,"m":21,"v":16.6},{"h":240,"m":21,"v":13.4},{"h":246,"m":21,"v":14},{"h":252,"m":21,"v":16.4},{"h":258,"m":21,"v":14},{"h":264,"m":21,"v":14.4},{"h":270,"m":21,"v":12.6},{"h":276,"m":21,"v":15.2},{"h":282,"m":21,"v":15},{"h":288,"m":21,"v":14.4},{"h":294,"m":21,"v":12.2},{"h":300,"m":21,"v":16.6},{"h":306,"m":21,"v":14.2},{"h":312,"m":21,"v":14},{"h":318,"m":21,"v":12},{"h":324,"m":21,"v":16.8},{"h":330,"m":21,"v":14},{"h":336,"m":21,"v":14.2},
{"h":-18,"m":22,"v":12.8},{"h":-12,"m":22,"v":21.6},{"h":-6,"m":22,"v":21},{"h":0,"m":22,"v":19.3},{"h":6,"m":22,"v":17.5},{"h":12,"m":22,"v":22.9},{"h":18,"m":22,"v":21.3},{"h":24,"m":22,"v":18.4},{"h":30,"m":22,"v":17.3},{"h":36,"m":22,"v":18.2},{"h":42,"m":22,"v":17.3},{"h":48,"m":22,"v":17.8},{"h":54,"m":22,"v":15.5},{"h":60,"m":22,"v":17.3},{"h":66,"m":22,"v":17},{"h":72,"m":22,"v":15.2},{"h":78,"m":22,"v":14.7},{"h":84,"m":22,"v":18.5},{"h":90,"m":22,"v":17.4},{"h":96,"m":22,"v":15.3},{"h":102,"m":22,"v":14.5},{"h":108,"m":22,"v":19.1},{"h":114,"m":22,"v":17.3},{"h":120,"m":22,"v":17},{"h":126,"m":22,"v":15},{"h":132,"m":22,"v":19.2},{"h":138,"m":22,"v":17.9},{"h":144,"m":22,"v":15.7},{"h":150,"m":22,"v":15.9},{"h":156,"m":22,"v":19.8},{"h":162,"m":22,"v":18.8},{"h":168,"m":22,"v":16.6},{"h":174,"m":22,"v":15.4},{"h":180,"m":22,"v":20},{"h":186,"m":22,"v":17.8},{"h":192,"m":22,"v":17.6},{"h":198,"m":22,"v":15.8},{"h":204,"m":22,"v":20},{"h":210,"m":22,"v":19.2},{"h":216,"m":22,"v":17.4},{"h":222,"m":22,"v":15.4},{"h":228,"m":22,"v":19.6},{"h":234,"m":22,"v":18},{"h":240,"m":22,"v":16.6},{"h":246,"m":22,"v":15.2},{"h":252,"m":22,"v":20.2},{"h":258,"m":22,"v":17.8},{"h":264,"m":22,"v":16.8},{"h":270,"m":22,"v":14.6},{"h":276,"m":22,"v":19.6},{"h":282,"m":22,"v":18.4},{"h":288,"m":22,"v":16.8},{"h":294,"m":22,"v":14.8},{"h":300,"m":22,"v":18.6},{"h":306,"m":22,"v":19.4},{"h":312,"m":22,"v":16.2},{"h":318,"m":22,"v":15.6},{"h":324,"m":22,"v":19.4},{"h":330,"m":22,"v":18.6},{"h":336,"m":22,"v":15.4},
{"h":-18,"m":23,"v":12.7},{"h":-12,"m":23,"v":21.2},{"h":-6,"m":23,"v":21.3},{"h":0,"m":23,"v":18.5},{"h":6,"m":23,"v":17.8},{"h":12,"m":23,"v":22},{"h":18,"m":23,"v":20.8},{"h":24,"m":23,"v":17.9},{"h":30,"m":23,"v":17.4},{"h":36,"m":23,"v":17.5},{"h":42,"m":23,"v":18.3},{"h":48,"m":23,"v":16.8},{"h":54,"m":23,"v":15},{"h":60,"m":23,"v":16},{"h":66,"m":23,"v":17.2},{"h":72,"m":23,"v":15.1},{"h":78,"m":23,"v":13.4},{"h":84,"m":23,"v":18.3},{"h":90,"m":23,"v":15.7},{"h":96,"m":23,"v":14.2},{"h":102,"m":23,"v":14.5},{"h":108,"m":23,"v":17.3},{"h":114,"m":23,"v":16.9},{"h":120,"m":23,"v":15.3},{"h":126,"m":23,"v":14},{"h":132,"m":23,"v":17.8},{"h":138,"m":23,"v":15.9},{"h":144,"m":23,"v":15.2},{"h":150,"m":23,"v":13.4},{"h":156,"m":23,"v":18.6},{"h":162,"m":23,"v":16.9},{"h":168,"m":23,"v":15.8},{"h":174,"m":23,"v":14.4},{"h":180,"m":23,"v":18.4},{"h":186,"m":23,"v":17.4},{"h":192,"m":23,"v":14.4},{"h":198,"m":23,"v":15},{"h":204,"m":23,"v":18.6},{"h":210,"m":23,"v":18.4},{"h":216,"m":23,"v":14.8},{"h":222,"m":23,"v":15.2},{"h":228,"m":23,"v":17},{"h":234,"m":23,"v":16.8},{"h":240,"m":23,"v":14.4},{"h":246,"m":23,"v":14.2},{"h":252,"m":23,"v":15.6},{"h":258,"m":23,"v":17.4},{"h":264,"m":23,"v":13.8},{"h":270,"m":23,"v":13.6},{"h":276,"m":23,"v":17.4},{"h":282,"m":23,"v":14.6},{"h":288,"m":23,"v":15.8},{"h":294,"m":23,"v":13.8},{"h":300,"m":23,"v":17.8},{"h":306,"m":23,"v":15.4},{"h":312,"m":23,"v":15.8},{"h":318,"m":23,"v":13.8},{"h":324,"m":23,"v":18.4},{"h":330,"m":23,"v":15.6},{"h":336,"m":23,"v":15.6},
{"h":-18,"m":24,"v":12.8},{"h":-12,"m":24,"v":21.3},{"h":-6,"m":24,"v":21.2},{"h":0,"m":24,"v":18.8},{"h":6,"m":24,"v":17},{"h":12,"m":24,"v":22.4},{"h":18,"m":24,"v":21.5},{"h":24,"m":24,"v":18.1},{"h":30,"m":24,"v":17.6},{"h":36,"m":24,"v":17.8},{"h":42,"m":24,"v":16.9},{"h":48,"m":24,"v":17.1},{"h":54,"m":24,"v":14.5},{"h":60,"m":24,"v":17.1},{"h":66,"m":24,"v":15.9},{"h":72,"m":24,"v":16.1},{"h":78,"m":24,"v":14.1},{"h":84,"m":24,"v":18.1},{"h":90,"m":24,"v":16.6},{"h":96,"m":24,"v":15.1},{"h":102,"m":24,"v":13.7},{"h":108,"m":24,"v":18.7},{"h":114,"m":24,"v":17.9},{"h":120,"m":24,"v":15.9},{"h":126,"m":24,"v":15.1},{"h":132,"m":24,"v":18.6},{"h":138,"m":24,"v":17.1},{"h":144,"m":24,"v":16.2},{"h":150,"m":24,"v":15},{"h":156,"m":24,"v":19.7},{"h":162,"m":24,"v":17.3},{"h":168,"m":24,"v":16.7},{"h":174,"m":24,"v":15.8},{"h":180,"m":24,"v":19.9},{"h":186,"m":24,"v":18.2},{"h":192,"m":24,"v":15.4},{"h":198,"m":24,"v":16.4},{"h":204,"m":24,"v":19.2},{"h":210,"m":24,"v":17.4},{"h":216,"m":24,"v":15.6},{"h":222,"m":24,"v":15.6},{"h":228,"m":24,"v":18},{"h":234,"m":24,"v":17.2},{"h":240,"m":24,"v":16.2},{"h":246,"m":24,"v":14.6},{"h":252,"m":24,"v":18.4},{"h":258,"m":24,"v":16.4},{"h":264,"m":24,"v":14.6},{"h":270,"m":24,"v":15.4},{"h":276,"m":24,"v":18.2},{"h":282,"m":24,"v":16.8},{"h":288,"m":24,"v":15.6},{"h":294,"m":24,"v":14.6},{"h":300,"m":24,"v":17.6},{"h":306,"m":24,"v":16},{"h":312,"m":24,"v":16.4},{"h":318,"m":24,"v":14.4},{"h":324,"m":24,"v":18.6},{"h":330,"m":24,"v":17.2},{"h":336,"m":24,"v":13.8}
],"control":[{"h":216,"v":17.7},{"h":222,"v":15.9},{"h":228,"v":17.4},{"h":234,"v":15.7},{"h":240,"v":13.9},{"h":246,"v":12.3},{"h":252,"v":18.5},{"h":258,"v":17},{"h":264,"v":13.4},{"h":270,"v":11.7},{"h":276,"v":20.3},{"h":282,"v":19},{"h":288,"v":15.6},{"h":294,"v":13.6},{"h":300,"v":23.6},{"h":306,"v":22.1},{"h":312,"v":18.1},{"h":318,"v":15.2},{"h":324,"v":25.6},{"h":330,"v":23.4},{"h":336,"v":20.5}],
"hres":[{"h":-18,"v":12.8},{"h":-12,"v":21.3},{"h":-6,"v":20.9},{"h":0,"v":19},{"h":6,"v":17.4},{"h":12,"v":22.3},{"h":18,"v":20.9},{"h":24,"v":18.1},{"h":30,"v":17.1},{"h":36,"v":15.9},{"h":42,"v":17},{"h":48,"v":15.5},{"h":54,"v":14.6},{"h":60,"v":15.5},{"h":66,"v":14.8},{"h":72,"v":16.3},{"h":78,"v":15.2},{"h":84,"v":18.1},{"h":90,"v":15.8},{"h":96,"v":13.4},{"h":102,"v":13.6},{"h":108,"v":18.6},{"h":114,"v":17.2},{"h":120,"v":16.1},{"h":126,"v":14.4},{"h":132,"v":19.9},{"h":138,"v":18.3},{"h":144,"v":16.1},{"h":150,"v":15},{"h":156,"v":18.8},{"h":162,"v":17.4},{"h":168,"v":17.1},{"h":174,"v":16.7},{"h":180,"v":18.1},{"h":186,"v":16.7},{"h":192,"v":15.1},{"h":198,"v":14.5},{"h":204,"v":20.1},{"h":210,"v":19.3},{"h":216,"v":17.7}],
"p50":[{"h":-18,"v":12.8},{"h":-12,"v":21.2},{"h":-6,"v":20.9},{"h":0,"v":18.6},{"h":6,"v":17.3},{"h":12,"v":22.3},{"h":18,"v":20.8},{"h":24,"v":18},{"h":30,"v":17},{"h":36,"v":17.3},{"h":42,"v":17.2},{"h":48,"v":16.7},{"h":54,"v":15},{"h":60,"v":16.7},{"h":66,"v":16.4},{"h":72,"v":15.5},{"h":78,"v":14.4},{"h":84,"v":18},{"h":90,"v":16.6},{"h":96,"v":14.3},{"h":102,"v":13.9},{"h":108,"v":18.5},{"h":114,"v":17.2},{"h":120,"v":16.2},{"h":126,"v":15.5},{"h":132,"v":18.3},{"h":138,"v":17},{"h":144,"v":15.5},{"h":150,"v":15.1},{"h":156,"v":18.8},{"h":162,"v":17.3},{"h":168,"v":16.2},{"h":174,"v":15.7},{"h":180,"v":19.5},{"h":186,"v":18.1},{"h":192,"v":16.3},{"h":198,"v":16.1},{"h":204,"v":19.4},{"h":210,"v":18.1},{"h":216,"v":15.7},{"h":222,"v":15.5},{"h":228,"v":18},{"h":234,"v":16.6},{"h":240,"v":15},{"h":246,"v":14.2},{"h":252,"v":17.3},{"h":258,"v":16.5},{"h":264,"v":14.4},{"h":270,"v":13.9},{"h":276,"v":18},{"h":282,"v":16.7},{"h":288,"v":14.9},{"h":294,"v":13.8},{"h":300,"v":19},{"h":306,"v":17.6},{"h":312,"v":15.6},{"h":318,"v":14.5},{"h":324,"v":18.7},{"h":330,"v":17.1},{"h":336,"v":15.2}],
"bands":[{"a":0,"b":24},{"a":48,"b":72},{"a":96,"b":120},{"a":144,"b":168},{"a":192,"b":216},{"a":240,"b":264},{"a":288,"b":312}]},
"resolve":{"axis":{"x":"independent","y":"independent"}},
"layer":[
{"data":{"name":"bands"},"mark":{"type":"rect","color":"#000000","opacity":0.07},"encoding":{"x":{"field":"a","type":"quantitative","scale":{"domain":[-30,336],"nice":false,"zero":false},"axis":{"values":[0,24,48,72,96,120,144,168,192,216,240,264,288,312,336],"labelExpr":"[['ma','di','wo','do','vr','za','zo'][(datum.value/24)%7], timeFormat(datetime(2026,8,7+datum.value/24),'%d-%m')]","title":null,"grid":false,"domain":false,"ticks":true,"tickColor":"#555555","tickWidth":1.5,"tickSize":5,"labelFontSize":16,"labelColor":"#555555","labelFont":"DejaVu Sans","labelPadding":7,"labelLineHeight":22,"labelOverlap":false,"labelFlush":false}},"x2":{"field":"b"}}},
{"data":{"values":[{"h":336}]},"mark":{"type":"rule","color":"#eeeeee","strokeWidth":1},"encoding":{"x":{"field":"h","type":"quantitative","axis":null}}},
{"data":{"name":"runs"},"mark":{"type":"line","strokeWidth":1.1},"encoding":{"x":{"field":"h","type":"quantitative","axis":null},"y":{"field":"v","type":"quantitative","scale":{"domain":[5,30],"nice":false,"zero":false},"axis":{"values":[5,10,15,20,25,30],"title":null,"orient":"left","domain":false,"ticks":false,"grid":true,"gridColor":{"condition":{"test":"datum.value===5","value":"#f0f0f0"},"value":"#d9d9d9"},"gridWidth":1.2,"labelFontSize":16.5,"labelColor":"#555555","labelFont":"DejaVu Sans","labelPadding":8}},"detail":{"field":"m"},"color":{"datum":"Verstoorde runs","scale":{"domain":["Verstoorde runs","Controle","Hoge resolutie","Middelste (P50)"],"range":["rgba(42,148,68,0.62)","#111111","#ff0000","#990000"]},"legend":{"title":null,"symbolStrokeWidth":{"expr":"datum.value==='Verstoorde runs'?1.1:datum.value==='Middelste (P50)'?2.2:3"}}},"strokeDash":{"datum":"Verstoorde runs","scale":{"domain":["Verstoorde runs","Controle","Hoge resolutie","Middelste (P50)"],"range":[[1,0],[9,4.5],[1,0],[7,4]]},"legend":{"title":null}}}},
{"data":{"name":"control"},"mark":{"type":"line","strokeWidth":3},"encoding":{"x":{"field":"h","type":"quantitative","axis":null},"y":{"field":"v","type":"quantitative","axis":null},"color":{"datum":"Controle"},"strokeDash":{"datum":"Controle"}}},
{"data":{"name":"hres"},"mark":{"type":"line","strokeWidth":3},"encoding":{"x":{"field":"h","type":"quantitative","axis":null},"y":{"field":"v","type":"quantitative","axis":null},"color":{"datum":"Hoge resolutie"},"strokeDash":{"datum":"Hoge resolutie"}}},
{"data":{"name":"p50"},"mark":{"type":"line","strokeWidth":2.2},"encoding":{"x":{"field":"h","type":"quantitative","axis":null},"y":{"field":"v","type":"quantitative","axis":{"values":[5,10,15,20,25,30],"title":null,"orient":"right","domain":false,"ticks":false,"grid":false,"labelFontSize":16.5,"labelColor":"#555555","labelFont":"DejaVu Sans","labelPadding":8}},"color":{"datum":"Middelste (P50)"},"strokeDash":{"datum":"Middelste (P50)"}}},
{"data":{"values":[{"h":-49.5,"v":-3.7,"t":"Gegenereerd door MeteoVPS (meteo-service.nl)"}]},"mark":{"type":"text","align":"left","baseline":"middle","fontSize":13.6,"color":"#888888","font":"DejaVu Sans"},"encoding":{"x":{"field":"h","type":"quantitative","axis":null},"y":{"field":"v","type":"quantitative","axis":null},"text":{"field":"t"}}},
{"data":{"values":[{"h":355.5,"v":-3.7,"t":"Bron: ECMWF AIFS/KNMI Ens"}]},"mark":{"type":"text","align":"right","baseline":"middle","fontSize":13.6,"color":"#888888","font":"DejaVu Sans"},"encoding":{"x":{"field":"h","type":"quantitative","axis":null},"y":{"field":"v","type":"quantitative","axis":null},"text":{"field":"t"}}}
]}
